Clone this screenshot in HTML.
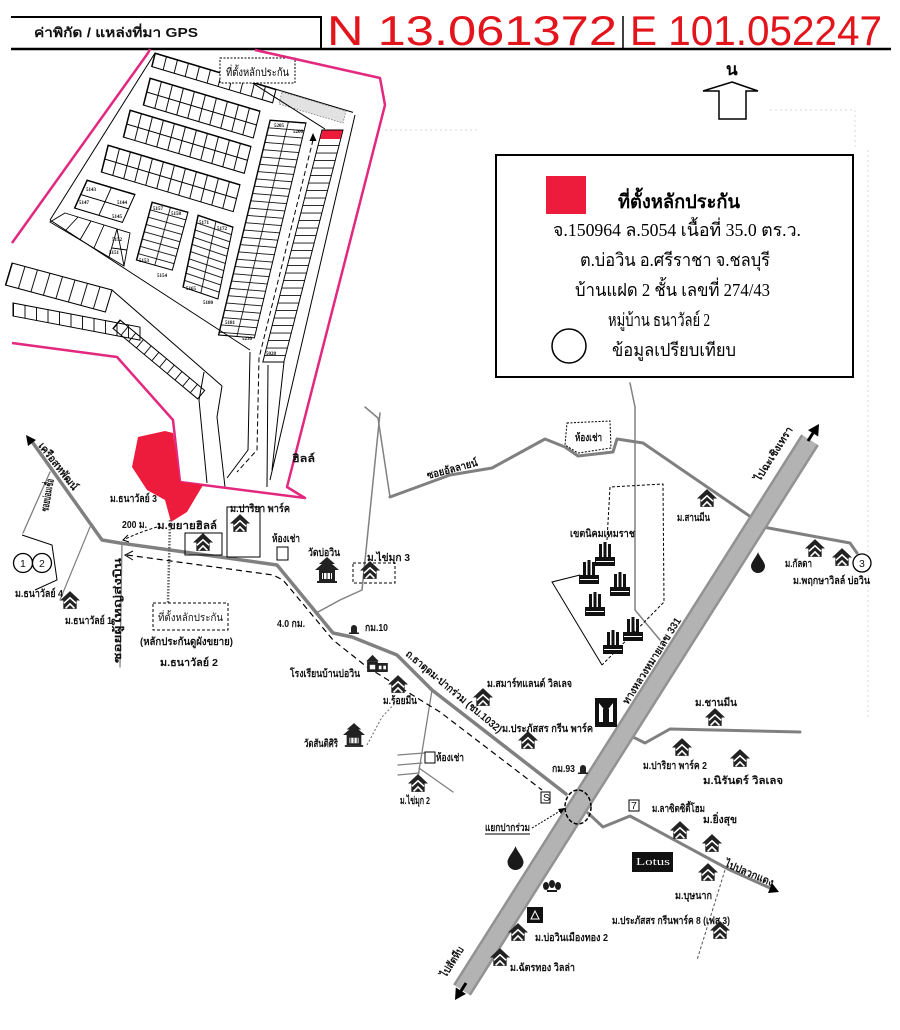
<!DOCTYPE html>
<html><head><meta charset="utf-8"><style>
html,body{margin:0;padding:0;background:#fff;}
svg{display:block;}
.lb{font-family:"Liberation Sans","DejaVu Sans",sans-serif;font-size:10.5px;fill:#111;font-weight:bold;}
.sv{font-family:"Liberation Serif","DejaVu Serif",serif;fill:#000;}
.num{font-family:"Liberation Serif",serif;font-size:5px;font-weight:bold;fill:#000;}
</style></head><body>
<svg width="900" height="1030" viewBox="0 0 900 1030" xmlns="http://www.w3.org/2000/svg">
<defs>
<pattern id="pA" patternUnits="userSpaceOnUse" width="11" height="13.5"><path d="M0.5 0V13.5M0 0.5H11" stroke="#000" stroke-width="0.9" fill="none"/></pattern>
<pattern id="pB" patternUnits="userSpaceOnUse" width="18" height="7.3"><path d="M0.5 0V7.3M0 0.5H18" stroke="#000" stroke-width="0.8" fill="none"/></pattern>
<pattern id="pC" patternUnits="userSpaceOnUse" width="17.5" height="7.2"><path d="M0.5 0V7.2M0 0.5H17.5" stroke="#000" stroke-width="0.8" fill="none"/></pattern>
<pattern id="pD" patternUnits="userSpaceOnUse" width="21" height="7.5"><path d="M0 0.5H21" stroke="#000" stroke-width="0.8" fill="none"/></pattern>
<pattern id="pE" patternUnits="userSpaceOnUse" width="24" height="14"><path d="M0.5 0V14M0 0.5H24" stroke="#000" stroke-width="0.9" fill="none"/></pattern>
<pattern id="pF" patternUnits="userSpaceOnUse" width="12.5" height="22"><path d="M0.5 0V22" stroke="#000" stroke-width="0.9" fill="none"/></pattern>
<pattern id="pG" patternUnits="userSpaceOnUse" width="11.5" height="13"><path d="M0.5 0V13" stroke="#000" stroke-width="0.9" fill="none"/></pattern>
<pattern id="pH" patternUnits="userSpaceOnUse" width="10" height="11"><path d="M0.5 0V11" stroke="#000" stroke-width="0.9" fill="none"/></pattern>
<symbol id="hs" viewBox="0 0 18 16">
 <path d="M9 0 L18 8.5 L15 8.5 L15 16 L3 16 L3 8.5 L0 8.5 Z" fill="#222"/>
 <path d="M3.5 11 L9 6 L14.5 11 M5 15.5 L9 11.5 L13 15.5" stroke="#fff" stroke-width="1.4" fill="none"/>
</symbol>
<symbol id="tp" viewBox="0 0 24 26">
 <path d="M12 0 L20 7 L17 7 L24 13 L20 13 L20 24 L4 24 L4 13 L0 13 L7 7 L4 7 Z" fill="#222"/>
 <rect x="7" y="16" width="10" height="6" fill="#fff"/>
 <path d="M8.5 16V22M12 16V22M15.5 16V22" stroke="#222"/>
 <rect x="2" y="24" width="20" height="2" fill="#222"/>
</symbol>
<symbol id="sc" viewBox="0 0 24 20">
 <path d="M0 8 L7 1 L14 8 Z" fill="#222"/>
 <rect x="1" y="8" width="12" height="12" fill="#222"/>
 <rect x="12" y="10" width="12" height="10" fill="#222"/>
 <rect x="14" y="13" width="3" height="4" fill="#fff"/><rect x="19" y="13" width="3" height="4" fill="#fff"/>
 <rect x="4" y="12" width="6" height="5" fill="#fff"/>
</symbol>
<symbol id="fc" viewBox="0 0 20 24">
 <rect x="0" y="15" width="20" height="9" fill="#111"/>
 <rect x="4" y="2" width="3" height="14" fill="#111"/>
 <rect x="8.5" y="0" width="3" height="16" fill="#111"/>
 <rect x="13" y="2" width="3" height="14" fill="#111"/>
 <rect x="1" y="19" width="18" height="1" fill="#fff"/>
</symbol>
<symbol id="ms" viewBox="0 0 10 9"><path d="M2 9 V3 A3 3 0 0 1 8 3 V9 Z" fill="#222"/><rect x="0" y="7.5" width="10" height="1.5" fill="#222"/></symbol>
<symbol id="dr" viewBox="0 0 14 21"><path d="M7 0 C6 4 0 10 0 14 A7 7 0 0 0 14 14 C14 10 8 4 7 0Z" fill="#1a1a1a"/></symbol>
</defs>

<rect width="900" height="1030" fill="#fff"/>

<!-- header -->
<line x1="11" y1="17" x2="321" y2="17" stroke="#000" stroke-width="2"/>
<line x1="321" y1="16" x2="321" y2="49" stroke="#000" stroke-width="2"/>
<line x1="623" y1="16" x2="623" y2="49" stroke="#000" stroke-width="1.5"/>
<line x1="11" y1="49" x2="891" y2="49" stroke="#000" stroke-width="2.5"/>
<text x="34" y="37" class="lb" style="font-size:13px" textLength="164" lengthAdjust="spacingAndGlyphs">ค่าพิกัด / แหล่งที่มา GPS</text>
<text x="327" y="45" font-family="Liberation Sans, sans-serif" font-size="42" fill="#e3141c" textLength="290" lengthAdjust="spacingAndGlyphs">N 13.061372</text>
<text x="630" y="45" font-family="Liberation Sans, sans-serif" font-size="42" fill="#e3141c" textLength="252" lengthAdjust="spacingAndGlyphs">E 101.052247</text>

<!-- faint scan lines -->
<path d="M385 130 H480 M770 110 H855 V150 M868 150 V720" stroke="#d8d8d8" stroke-width="1" stroke-dasharray="2 3" fill="none"/>

<!-- north arrow -->
<text x="726" y="75" class="sv" font-size="17" font-weight="bold">น</text>
<path d="M732 82 L758 91 L746 91 L746 119 L719 119 L719 91 L703 91 Z" fill="#fff" stroke="#000" stroke-width="1.5"/>

<!-- legend -->
<rect x="496" y="155" width="357" height="222" fill="#fff" stroke="#000" stroke-width="2"/>
<rect x="546" y="176" width="40" height="38" fill="#ee1c3c"/>
<g class="sv">
<text x="618" y="208" font-size="19" font-weight="bold" textLength="122" lengthAdjust="spacingAndGlyphs">ที่ตั้งหลักประกัน</text>
<text x="553" y="236" font-size="18" textLength="248" lengthAdjust="spacingAndGlyphs">จ.150964 ล.5054 เนื้อที่ 35.0 ตร.ว.</text>
<text x="580" y="266" font-size="18" textLength="190" lengthAdjust="spacingAndGlyphs">ต.บ่อวิน  อ.ศรีราชา  จ.ชลบุรี</text>
<text x="575" y="296" font-size="18" textLength="195" lengthAdjust="spacingAndGlyphs">บ้านแฝด 2 ชั้น เลขที่ 274/43</text>
<text x="608" y="326" font-size="18" textLength="102" lengthAdjust="spacingAndGlyphs">หมู่บ้าน ธนาวัลย์ 2</text>
<text x="612" y="356" font-size="18" textLength="124" lengthAdjust="spacingAndGlyphs">ข้อมูลเปรียบเทียบ</text>
</g>
<circle cx="569" cy="346" r="17" fill="none" stroke="#000" stroke-width="1.5"/>

<!-- ===== subdivision plan ===== -->
<g stroke="#000" stroke-width="1" fill="none">
 <path d="M155 53 L353 112.4"/>
 <path d="M155 53 L50 220"/>
 <path d="M50 220 L250 350"/>
 <path d="M112 290 L222 386"/>
 <path d="M355 115 L270 480"/>
 <path d="M222 386 L217 417 L225 487"/>
 <path d="M204 372 L199 400 L207 483"/>
 <path d="M250 352 L248 450 L227 478"/>
 <path d="M268 365 L267 487"/>
 <path d="M284 362 L272 470"/>
</g>
<path d="M313 140 L259 358 L257 450 L237 472" stroke="#000" stroke-width="1" stroke-dasharray="5 3" fill="none"/>
<path d="M313 133 L309.5 141 L316.5 141 Z" fill="#000"/>

<g transform="matrix(1,0.3,-0.25,1,155,53)"><rect width="121" height="13.5" fill="url(#pA)" stroke="#000"/></g>
<g transform="matrix(1,0.3,-0.25,1,150,78)"><rect width="110" height="27" fill="url(#pA)" stroke="#000"/></g>
<g transform="matrix(1,0.3,-0.25,1,130,110)"><rect width="121" height="27" fill="url(#pA)" stroke="#000"/></g>
<g transform="matrix(1,0.3,-0.25,1,108,145)"><rect width="132" height="27" fill="url(#pA)" stroke="#000"/></g>
<g transform="matrix(1,0.3,-0.45,1,87,180)"><rect width="48" height="28" fill="url(#pE)" stroke="#000"/></g>
<path d="M65 213 L130 233 L124 266 L50 222 Z M78 217 L65 231 M91 221 L80 240 M104 225 L94 248 M117 229 L109 257 M117 229 L124 266 M112 248 L127 250" stroke="#000" stroke-width="0.9" fill="none"/>
<g transform="matrix(1,0.28,-0.27,1,152,202)"><rect width="36" height="58" fill="url(#pB)" stroke="#000"/></g>
<g transform="matrix(1,0.34,-0.21,1,198,215)"><rect width="35" height="72" fill="url(#pC)" stroke="#000"/></g>
<g transform="matrix(1,0.08,-0.24,1,270,120)"><rect width="36" height="215" fill="url(#pB)" stroke="#000"/></g>
<g transform="matrix(1,0,-0.255,1,322,130)"><rect width="21" height="232" fill="url(#pD)" stroke="#000"/><rect x="0.5" y="0.5" width="20" height="8.5" fill="#ee1c3c"/></g>
<g transform="matrix(1,0.27,-0.3,1,12,263)"><rect width="100" height="22" fill="url(#pF)" stroke="#000"/></g>
<g transform="matrix(1,0.19,0,1,13,303)"><rect width="127" height="13" fill="url(#pG)" stroke="#000"/></g>
<g transform="matrix(0.77,0.64,-0.64,0.77,120,320)"><rect width="110" height="11" fill="url(#pH)" stroke="#000"/></g>
<path d="M282 92 L346 111 L343 123 L279 104 Z" fill="#e2e2e2" stroke="#777" stroke-width="0.8" stroke-dasharray="1.5 1.5"/>
<line x1="243" y1="77" x2="325" y2="129" stroke="#000" stroke-width="1"/>
<rect x="220" y="58" width="75" height="25" fill="#fff" stroke="#000" stroke-width="1" stroke-dasharray="2 1.5"/>
<text x="226" y="76" class="sv" font-size="11" textLength="63" lengthAdjust="spacingAndGlyphs">ที่ตั้งหลักประกัน</text>
<g class="num">
<text x="274" y="127">5205</text><text x="293" y="133">5206</text>
<text x="86" y="191">5143</text><text x="79" y="204">5147</text><text x="117" y="204">5144</text><text x="112" y="218">5145</text>
<text x="153" y="210">5157</text><text x="171" y="215">5158</text><text x="139" y="262">5153</text><text x="157" y="277">5154</text>
<text x="199" y="224">5171</text><text x="217" y="230">5172</text><text x="186" y="290">5165</text><text x="203" y="304">5180</text>
<text x="225" y="324">5181</text><text x="242" y="340">5230</text><text x="266" y="355">5028</text>
<text x="112" y="241">5152</text><text x="109" y="254">5151</text>
</g>

<path d="M12 243 L148 53 L150 49 M255 50 L380 78 L385 105 L287 487 L305 498 L180 482 L173 420 L117 357 L12 343" stroke="#e2287f" stroke-width="2.5" fill="none" stroke-linejoin="round"/>
<path d="M138 437 L165 431 L173 433 L180 482 L203 485 L187 512 L171 522 L165 500 L147 490 L132 467 Z" fill="#ee1c3c"/>

<!-- roads -->
<g stroke="#808080" fill="none" stroke-linejoin="round" stroke-linecap="round">
 <path d="M33 443 L102 540 L120 543 L277 565 L333 633 L352 637 L397 655 L432 690 L566 794" stroke-width="3.5"/>
 <path d="M390 497 L450 475 L492 468 L545 439 L565 447 L578 456 L613 452 L617 439 L643 443 L748 515 L763 527 L850 543 L857 553" stroke-width="3"/>
 <path d="M588 813 L603 827 L630 816 L730 870 L770 888" stroke-width="3"/>
 <path d="M633 737 L645 743 L670 729 L800 732" stroke-width="3"/>
 <path d="M365 407 L378 418 L390 497" stroke-width="1.5"/>
 <path d="M380 413 L362 590 L340 600 L318 612" stroke-width="1.5"/>
 <path d="M630 383 L635 407 L635 610 L660 640" stroke-width="1.5"/>
 <path d="M50 472 L23 533" stroke-width="1.3"/>
 <path d="M90 527 L60 600" stroke-width="1.2"/>
 <path d="M122 543 L120 667" stroke-width="1.3"/>
 <path d="M432 690 L418 777 M398 755 L424 753 M398 765 L422 763 M398 775 L419 773 M419 768 L453 792" stroke-width="1.3"/>
</g>
<path d="M367 745 L382 717 L398 700" stroke="#666" stroke-width="1" stroke-dasharray="2 2" fill="none"/>
<path d="M725 870 L697 960" stroke="#555" stroke-width="1" stroke-dasharray="3 2" fill="none"/>
<path d="M170 520 L168 603" stroke="#666" stroke-width="2.5" stroke-dasharray="1.5 1.5" fill="none"/>
<path d="M26 435 L36 440 L28 446 Z" fill="#000"/>
<path d="M779 892 L768 893 L772 883 Z" fill="#000"/>

<!-- highway -->
<line x1="810" y1="440" x2="462" y2="990" stroke="#929292" stroke-width="21"/>
<line x1="810" y1="440" x2="462" y2="990" stroke="#b3b3b3" stroke-width="16"/>
<path d="M819 424 L818.2 436.5 L808 430.1 Z" fill="#000"/>
<line x1="813" y1="433" x2="808" y2="441" stroke="#000" stroke-width="3"/>
<path d="M455 1000 L466 993.9 L455.8 987.5 Z" fill="#000"/>
<line x1="461" y1="991" x2="466" y2="983" stroke="#000" stroke-width="3"/>
<ellipse cx="578" cy="807" rx="13" ry="17" fill="none" stroke="#000" stroke-width="1.5" stroke-dasharray="4 2"/>

<!-- route dashed -->
<path d="M127 555 L273 575 L283 580 L333 640 L367 667 L440 712 L542 790" stroke="#000" stroke-width="1.2" stroke-dasharray="6 4" fill="none"/>
<path d="M133 551 L125 555 L133 560" stroke="#000" stroke-width="1" fill="none"/>
<path d="M157 527 Q140 532 123 540" stroke="#000" stroke-width="1" stroke-dasharray="3 2" fill="none"/>
<path d="M128 535 L123 540 L129 542" stroke="#000" stroke-width="1" fill="none"/>
<path d="M532 828 L565 808" stroke="#000" stroke-width="1" stroke-dasharray="2 1.5" fill="none"/>
<path d="M565 808 L558 809 L561 814 Z" fill="#000"/>

<g stroke="#000" stroke-width="1" fill="none">
 <path d="M22 535 L52 545 L57 580 L35 590"/>
 <rect x="185" y="533" width="37" height="22"/>
 <rect x="227" y="507" width="33" height="50"/>
 <rect x="277" y="547" width="11" height="13"/>
 <rect x="425" y="752" width="10" height="11"/>
 <path d="M567 423 L610 421 L611 448 L578 453 L565 445 Z" stroke-dasharray="2 1.5"/>
 <rect x="353" y="563" width="42" height="20" stroke-dasharray="3 2"/>
 <rect x="153" y="603" width="75" height="27" stroke-dasharray="3 2"/>
 <path d="M607 540 L610 487 L663 484 L664 602 L602 665" stroke-dasharray="3 2"/>
 <path d="M602 665 L552 582 L580 575" />
</g>
<circle cx="23" cy="563" r="9.5" fill="#fff" stroke="#000" stroke-width="1.3"/>
<circle cx="42" cy="563" r="9.5" fill="#fff" stroke="#000" stroke-width="1.3"/>
<text x="20" y="567" class="lb" font-size="9" style="font-weight:normal">1</text>
<text x="39" y="567" class="lb" font-size="9" style="font-weight:normal">2</text>
<circle cx="862" cy="563" r="9" fill="#fff" stroke="#000" stroke-width="1.3"/>
<text x="859" y="567" class="lb" font-size="9" style="font-weight:normal">3</text>

<!-- icons -->
<g>
<use href="#hs" x="60" y="591" width="20" height="18"/>
<use href="#hs" x="193" y="533" width="20" height="18"/>
<use href="#hs" x="230" y="514" width="20" height="18"/>
<use href="#hs" x="360" y="561" width="20" height="18"/>
<use href="#hs" x="388" y="675" width="20" height="18"/>
<use href="#hs" x="473" y="688" width="20" height="18"/>
<use href="#hs" x="518" y="731" width="20" height="18"/>
<use href="#hs" x="408" y="774" width="20" height="18"/>
<use href="#hs" x="697" y="489" width="20" height="18"/>
<use href="#hs" x="805" y="539" width="20" height="18"/>
<use href="#hs" x="832" y="548" width="20" height="18"/>
<use href="#hs" x="672" y="738" width="20" height="18"/>
<use href="#hs" x="705" y="708" width="20" height="18"/>
<use href="#hs" x="730" y="749" width="20" height="18"/>
<use href="#hs" x="670" y="821" width="20" height="18"/>
<use href="#hs" x="702" y="834" width="20" height="18"/>
<use href="#hs" x="698" y="863" width="20" height="18"/>
<use href="#hs" x="710" y="921" width="20" height="18"/>
<use href="#hs" x="508" y="923" width="20" height="18"/>
<use href="#hs" x="490" y="948" width="20" height="18"/>
<use href="#tp" x="315" y="557" width="24" height="26"/>
<use href="#tp" x="343" y="723" width="22" height="24"/>
<use href="#sc" x="366" y="654" width="22" height="18"/>
<use href="#fc" x="595" y="542" width="20" height="24"/>
<use href="#fc" x="579" y="560" width="20" height="24"/>
<use href="#fc" x="610" y="572" width="20" height="24"/>
<use href="#fc" x="585" y="592" width="20" height="24"/>
<use href="#fc" x="623" y="617" width="20" height="24"/>
<use href="#fc" x="603" y="630" width="20" height="24"/>
<use href="#ms" x="349" y="625" width="10" height="9"/>
<use href="#ms" x="578" y="765" width="10" height="9"/>
<use href="#dr" x="507" y="846" width="17" height="24"/>
<use href="#dr" x="751" y="552" width="14" height="21"/>
</g>
<rect x="595" y="698" width="22" height="29" fill="#111"/>
<path d="M599 703 L606 712 L613 703 L613 722 L599 722 Z" fill="#fff"/>
<rect x="603" y="709" width="6" height="13" fill="#111"/>
<rect x="632" y="852" width="41" height="20" fill="#111"/>
<text x="636" y="865" font-family="Liberation Serif, serif" font-size="11" fill="#fff" textLength="34" lengthAdjust="spacingAndGlyphs">Lotus</text>
<rect x="629" y="800" width="10" height="11" fill="#fff" stroke="#000"/>
<text x="631" y="809" class="lb" font-size="8" style="font-weight:normal">7</text>
<rect x="541" y="792" width="9" height="11" fill="#fff" stroke="#000"/>
<text x="543" y="801" class="lb" font-size="7" style="font-weight:normal">S</text>
<g fill="#1a1a1a"><ellipse cx="546" cy="886" rx="3" ry="4"/><ellipse cx="552" cy="884" rx="3" ry="4"/><ellipse cx="558" cy="886" rx="3" ry="4"/><rect x="547" y="890" width="10" height="2"/></g>
<rect x="527" y="907" width="16" height="16" fill="#111"/>
<path d="M531 919 L535 911 L539 919 Z" fill="none" stroke="#fff" stroke-width="1"/>

<!-- labels -->
<g class="lb">
<text x="292" y="462" textLength="23" lengthAdjust="spacingAndGlyphs">ฮิลล์</text>
<text x="110" y="502" textLength="47" lengthAdjust="spacingAndGlyphs">ม.ธนาวัลย์ 3</text>
<text x="122" y="528" textLength="25" lengthAdjust="spacingAndGlyphs">200 ม.</text>
<text x="157" y="529" textLength="60" lengthAdjust="spacingAndGlyphs">ม.ขยายฮิลล์</text>
<text x="230" y="512" textLength="60" lengthAdjust="spacingAndGlyphs">ม.ปาริยา พาร์ค</text>
<text x="272" y="542" textLength="28" lengthAdjust="spacingAndGlyphs">ห้องเช่า</text>
<text x="308" y="556" textLength="32" lengthAdjust="spacingAndGlyphs">วัดบ่อวิน</text>
<text x="367" y="561" textLength="43" lengthAdjust="spacingAndGlyphs">ม.ไข่มุก 3</text>
<text x="277" y="627" textLength="28" lengthAdjust="spacingAndGlyphs">4.0 กม.</text>
<text x="365" y="631" textLength="23" lengthAdjust="spacingAndGlyphs">กม.10</text>
<text x="290" y="677" textLength="70" lengthAdjust="spacingAndGlyphs">โรงเรียนบ้านบ่อวิน</text>
<text x="383" y="704" textLength="34" lengthAdjust="spacingAndGlyphs">ม.ร้อยมีน</text>
<text x="304" y="747" textLength="34" lengthAdjust="spacingAndGlyphs">วัดสันติศิริ</text>
<text x="436" y="761" textLength="28" lengthAdjust="spacingAndGlyphs">ห้องเช่า</text>
<text x="400" y="804" textLength="30" lengthAdjust="spacingAndGlyphs">ม.ไข่มุก 2</text>
<text x="15" y="597" textLength="48" lengthAdjust="spacingAndGlyphs">ม.ธนาวัลย์ 4</text>
<text x="65" y="624" textLength="47" lengthAdjust="spacingAndGlyphs">ม.ธนาวัลย์ 1</text>
<text x="158" y="621" textLength="65" lengthAdjust="spacingAndGlyphs" style="font-weight:normal">ที่ตั้งหลักประกัน</text>
<text x="140" y="645" textLength="93" lengthAdjust="spacingAndGlyphs">(หลักประกันดูผังขยาย)</text>
<text x="160" y="666" textLength="58" lengthAdjust="spacingAndGlyphs">ม.ธนาวัลย์ 2</text>
<text x="575" y="441" textLength="27" lengthAdjust="spacingAndGlyphs">ห้องเช่า</text>
<text x="677" y="521" textLength="33" lengthAdjust="spacingAndGlyphs">ม.สานมีน</text>
<text x="570" y="537" textLength="65" lengthAdjust="spacingAndGlyphs">เขตนิคมเหมราช</text>
<text x="785" y="567" textLength="27" lengthAdjust="spacingAndGlyphs">ม.กัลดา</text>
<text x="793" y="584" textLength="77" lengthAdjust="spacingAndGlyphs">ม.พฤกษาวิลล์ บ่อวิน</text>
<text x="487" y="687" textLength="85" lengthAdjust="spacingAndGlyphs">ม.สมาร์ทแลนด์ วิลเลจ</text>
<text x="502" y="732" textLength="91" lengthAdjust="spacingAndGlyphs">ม.ประภัสสร กรีน พาร์ค</text>
<text x="552" y="772" textLength="23" lengthAdjust="spacingAndGlyphs">กม.93</text>
<text x="643" y="769" textLength="64" lengthAdjust="spacingAndGlyphs">ม.ปาริยา พาร์ค 2</text>
<text x="695" y="706" textLength="42" lengthAdjust="spacingAndGlyphs">ม.ชานมีน</text>
<text x="703" y="784" textLength="80" lengthAdjust="spacingAndGlyphs">ม.นิรันดร์ วิลเลจ</text>
<text x="652" y="812" textLength="53" lengthAdjust="spacingAndGlyphs">ม.ลาซิตซิตี้โฮม</text>
<text x="703" y="823" textLength="34" lengthAdjust="spacingAndGlyphs">ม.ยิ่งสุข</text>
<text x="485" y="831" textLength="45" lengthAdjust="spacingAndGlyphs">แยกปากร่วม</text>
<text x="675" y="899" textLength="37" lengthAdjust="spacingAndGlyphs">ม.บุษนาก</text>
<text x="612" y="924" textLength="118" lengthAdjust="spacingAndGlyphs">ม.ประภัสสร กรีนพาร์ค 8 (เฟส 3)</text>
<text x="535" y="941" textLength="73" lengthAdjust="spacingAndGlyphs">ม.บ่อวินเมืองทอง 2</text>
<text x="510" y="971" textLength="65" lengthAdjust="spacingAndGlyphs">ม.ฉัตรทอง วิลล่า</text>
<text transform="translate(428,479) rotate(-15)" textLength="52" lengthAdjust="spacingAndGlyphs">ซอยอัลลายน์</text>
<text transform="translate(405,655) rotate(40)" textLength="122" lengthAdjust="spacingAndGlyphs">ถ.ธาตุดม-ปากร่วม (ชบ.1032)</text>
<text transform="translate(628,705) rotate(-57.7)" textLength="100" lengthAdjust="spacingAndGlyphs">ทางหลวงหมายเลข 331</text>
<text transform="translate(760,482) rotate(-57.7)" textLength="62" lengthAdjust="spacingAndGlyphs">ไปฉะเชิงเทรา</text>
<text transform="translate(446,978) rotate(-57.7)" textLength="34" lengthAdjust="spacingAndGlyphs">ไปสัตหีบ</text>
<text transform="translate(38,446) rotate(52)" textLength="57" lengthAdjust="spacingAndGlyphs">เครือสหพัฒน์</text>
<text transform="translate(48,512) rotate(-80)" textLength="33" lengthAdjust="spacingAndGlyphs">ซอยบ่อมเชื่อ</text>
<text transform="translate(121,663) rotate(-90)" textLength="105" lengthAdjust="spacingAndGlyphs">ซอยผู้ใหญ่ส่งบิน</text>
<text transform="translate(724,866) rotate(23)" textLength="52" lengthAdjust="spacingAndGlyphs">ไปปลวกแดง</text>
</g>
<line x1="485" y1="834" x2="530" y2="834" stroke="#000" stroke-width="1"/>
</svg>
</body></html>
